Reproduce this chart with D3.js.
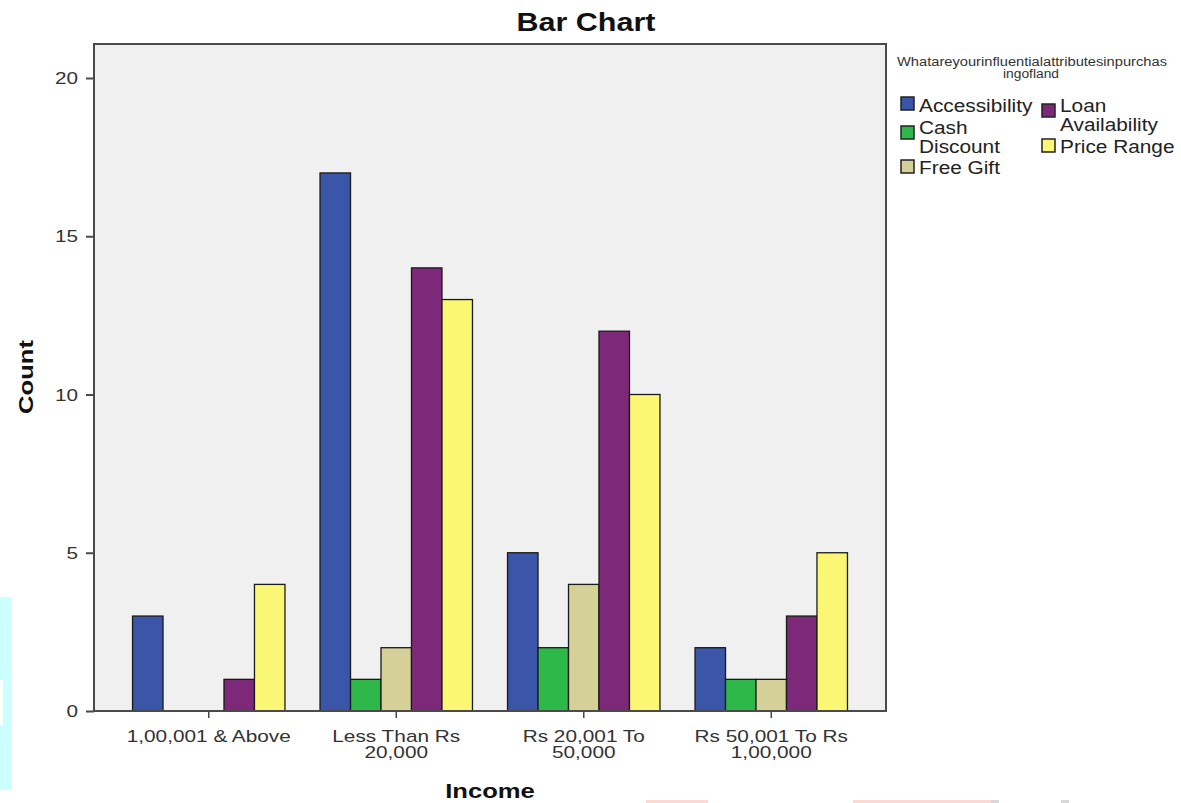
<!DOCTYPE html>
<html><head><meta charset="utf-8">
<script src="https://cdn.jsdelivr.net/npm/d3@7"></script>
<style>body{margin:0;background:#fff;}svg{display:block;font-family:Arial,"Liberation Sans",sans-serif;}</style>
</head><body>
<svg id="c" width="1181" height="803"></svg>
<script>
const categories = [["1,00,001 & Above"], ["Less Than Rs", "20,000"], ["Rs 20,001 To", "50,000"], ["Rs 50,001 To Rs", "1,00,000"]];
const seriesNames = ["Accessibility", "Cash Discount", "Free Gift", "Loan Availability", "Price Range"];
const accessibility = [3, 17, 5, 2];
const cashDiscount = [0, 1, 2, 1];
const freeGift = [0, 2, 4, 1];
const loanAvailability = [1, 14, 12, 3];
const priceRange = [4, 13, 10, 5];
const yTicks = [0, 5, 10, 15, 20];
const colors = ["#3b55a8", "#2fb84a", "#d5cf98", "#7d2878", "#fbf774"];

const seriesValues = [accessibility, cashDiscount, freeGift, loanAvailability, priceRange];
const svg = d3.select("#c");
const L = 94, R = 886, T = 44, B = 711;
const SX = 1.22;

function stext(parent, x, y, lines, size, opts = {}) {
  const sx = opts.sx || SX;
  const t = parent.append("text")
    .attr("transform", `translate(${x},${y}) ${opts.rotate ? "rotate(-90)" : ""} scale(${sx},1)`)
    .attr("text-anchor", opts.anchor || "start")
    .attr("font-size", size)
    .attr("font-weight", opts.bold ? "bold" : "normal")
    .attr("fill", opts.fill || "#222");
  lines.forEach((line, i) => t.append("tspan").attr("x", 0).attr("dy", i ? (opts.lh || size) : 0).text(line));
  return t;
}

// decorative artifacts from the reference image
svg.append("rect").attr("x", 0).attr("y", 597).attr("width", 12).attr("height", 193).attr("fill", "#ccffff");
svg.append("rect").attr("x", 0).attr("y", 680).attr("width", 3).attr("height", 45).attr("fill", "#ffffff");
svg.append("rect").attr("x", 646).attr("y", 800).attr("width", 62).attr("height", 3).attr("fill", "#fcd9d4");
svg.append("rect").attr("x", 853).attr("y", 800).attr("width", 138).attr("height", 3).attr("fill", "#fcd9d4");
svg.append("rect").attr("x", 991).attr("y", 800).attr("width", 8).attr("height", 3).attr("fill", "#d8d8d8");
svg.append("rect").attr("x", 1061).attr("y", 800).attr("width", 8).attr("height", 3).attr("fill", "#d8d8d8");

svg.append("rect").attr("x", L).attr("y", T).attr("width", R - L).attr("height", B - T)
  .attr("fill", "#f0f0f0");

const y = d3.scaleLinear().domain([0, (B - T) / 31.65]).range([B, T]);
const catKeys = categories.map(c => c.join(" "));
const x0 = d3.scaleBand().domain(catKeys).range([L, R]).paddingInner(0.187).paddingOuter(0.2055);
const x1 = d3.scaleBand().domain(seriesNames).range([0, x0.bandwidth()]);

categories.forEach((c, ci) => {
  const g = svg.append("g").attr("transform", `translate(${x0(catKeys[ci])},0)`);
  seriesNames.forEach((s, si) => {
    const v = seriesValues[si][ci];
    if (v <= 0) return;
    g.append("rect").attr("x", x1(s)).attr("y", y(v)).attr("width", x1.bandwidth()).attr("height", y(0) - y(v))
      .attr("fill", colors[si]).attr("stroke", "#1a1a1a").attr("stroke-width", 1.3);
  });
});

// frame
svg.append("rect").attr("x", L).attr("y", T).attr("width", R - L).attr("height", B - T)
  .attr("fill", "none").attr("stroke", "#4a4a4a").attr("stroke-width", 2);

// y axis
const yAxis = svg.append("g").attr("transform", `translate(${L},0)`)
  .call(d3.axisLeft(y).tickValues(yTicks).tickSize(8).tickSizeOuter(0).tickFormat(""));
yAxis.select(".domain").remove();
yAxis.selectAll("line").attr("stroke", "#4a4a4a").attr("stroke-width", 2);
yTicks.forEach(v => stext(svg, 78, y(v) + 6, [String(v)], 17, {anchor: "end", fill: "#333"}));

// x axis
const xAxis = svg.append("g").attr("transform", `translate(0,${B})`)
  .call(d3.axisBottom(x0).tickSize(7).tickSizeOuter(0).tickFormat(""));
xAxis.select(".domain").remove();
xAxis.selectAll("line").attr("stroke", "#4a4a4a").attr("stroke-width", 1.5);
categories.forEach((c, ci) => {
  const cx = x0(catKeys[ci]) + x0.bandwidth() / 2;
  stext(svg, cx, 742, c, 16, {anchor: "middle", fill: "#333", lh: 16.5, sx: 1.3});
});

// titles
stext(svg, 586, 31, ["Bar Chart"], 25, {anchor: "middle", bold: true, fill: "#111"});
stext(svg, 33, 377, ["Count"], 21, {anchor: "middle", bold: true, fill: "#111", rotate: true});
stext(svg, 490, 798, ["Income"], 21, {anchor: "middle", bold: true, fill: "#111"});

// legend
const lg = svg.append("g");
lg.append("text").attr("x", 897).attr("y", 66).attr("font-size", 12)
  .attr("textLength", 270).attr("lengthAdjust", "spacingAndGlyphs").attr("fill", "#333").text("Whatareyourinfluentialattributesinpurchas");
lg.append("text").attr("x", 1003).attr("y", 78).attr("font-size", 12)
  .attr("textLength", 56).attr("lengthAdjust", "spacingAndGlyphs").attr("fill", "#333").text("ingofland");
const legendItems = [
  {i: 0, sx: 901, sy: 97, lines: ["Accessibility"], ty: 112},
  {i: 1, sx: 901, sy: 126, lines: ["Cash", "Discount"], ty: 134},
  {i: 2, sx: 901, sy: 160, lines: ["Free Gift"], ty: 174},
  {i: 3, sx: 1042, sy: 104, lines: ["Loan", "Availability"], ty: 112},
  {i: 4, sx: 1042, sy: 139, lines: ["Price Range"], ty: 153}
];
legendItems.forEach(d => {
  lg.append("rect").attr("x", d.sx).attr("y", d.sy).attr("width", 13).attr("height", 13)
    .attr("fill", colors[d.i]).attr("stroke", "#222").attr("stroke-width", 1.5);
  stext(lg, d.sx + 18, d.ty, d.lines, 17.5, {lh: 19, sx: 1.19});
});
</script>
</body></html>
